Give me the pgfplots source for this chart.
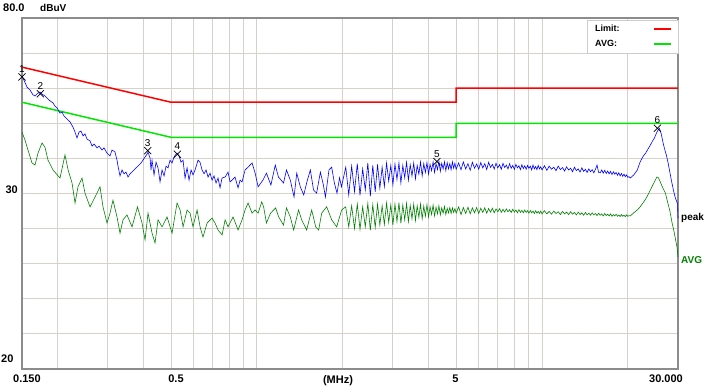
\documentclass[border=0pt]{standalone}
\usepackage{pgfplots}
\pgfplotsset{compat=1.18}
\usepackage{fontspec}
\setmainfont{Liberation Sans}
\definecolor{gridc}{RGB}{214,210,202}
\definecolor{limred}{RGB}{255,0,0}
\definecolor{limgreen}{RGB}{0,230,0}
\definecolor{pkblue}{RGB}{0,0,255}
\definecolor{avgreen}{RGB}{0,128,0}
\definecolor{framec}{RGB}{140,140,140}
\newcommand{\tl}{\fontsize{11}{13}\selectfont\bfseries}
\begin{document}
\begin{tikzpicture}
\useasboundingbox (-22pt,-18pt) rectangle (691pt,369pt);
\begin{axis}[
  name=ax, at={(0,0)}, anchor=south west,
  xmode=log, scale only axis, width=656pt, height=351pt,
  xmin=0.15, xmax=30, ymin=-20, ymax=80,
  xtick={1,10}, xticklabels={},
  minor xtick={0.2,0.3,0.4,0.5,0.6,0.7,0.8,0.9,2,3,4,5,6,7,8,9,20,30},
  ytick={-20,-10,0,10,20,30,40,50,60,70,80}, yticklabels={},
  grid=both,
  major grid style={gridc, line width=0.9pt},
  minor grid style={gridc, line width=0.9pt},
  major tick length=0pt, minor tick length=0pt,
  axis line style={framec, line width=1.2pt},
  clip=false,
  legend cell align=left,
  legend plot pos=right,
  legend style={at={(1,1)}, anchor=north east, yshift=-2pt,
    draw=gray!40, fill=white, font=\fontsize{9}{10}\selectfont\bfseries,
    inner xsep=6pt, inner ysep=3pt, row sep=3pt},
]
\addplot[limred, line width=1.5pt] coordinates {(0.15,66)(0.5,56)(5,56)(5,60)(30,60)};
\addlegendentry{\makebox[56pt][l]{Limit:}}
\addplot[limgreen, line width=1.5pt] coordinates {(0.15,56)(0.5,46)(5,46)(5,50)(30,50)};
\addlegendentry{\makebox[56pt][l]{AVG:}}

% AVG trace
\addplot[avgreen, line width=0.6pt, forget plot] table {
f db
0.1500 47.5
0.1537 45.2
0.1574 42.4
0.1626 38.7
0.1666 38.1
0.1707 41.5
0.1763 44.4
0.1806 43.2
0.1851 39.5
0.1927 36.7
0.2039 34.4
0.2123 41.0
0.2177 36.7
0.2247 33.0
0.2302 27.3
0.2358 31.9
0.2436 34.4
0.2495 30.1
0.2598 26.2
0.2706 29.0
0.2817 31.9
0.2886 26.2
0.2981 21.6
0.3054 24.4
0.3128 28.1
0.3232 23.3
0.3311 18.7
0.3392 22.5
0.3503 23.9
0.3648 20.5
0.3813 26.2
0.3955 21.6
0.4052 16.8
0.4151 24.4
0.4288 18.7
0.4393 15.9
0.4501 22.5
0.4649 20.5
0.4841 23.3
0.5040 18.7
0.5248 27.3
0.538 25.3
0.551 20.5
0.569 25.3
0.583 24.4
0.597 20.5
0.617 25.3
0.632 20.5
0.647 17.6
0.669 21.6
0.696 23.0
0.713 21.6
0.731 19.6
0.755 18.2
0.774 22.5
0.792 20.5
0.825 23.3
0.859 19.6
0.887 22.5
0.909 25.3
0.931 27.3
0.962 24.4
0.986 25.3
1.01 24.4
1.04 27.6
1.056 26.2
1.08 21.6
1.117 24.4
1.164 25.9
1.193 23.3
1.24 21.0
1.27 25.9
1.31 23.3
1.346 19.6
1.40 25.3
1.436 22.5
1.495 19.6
1.557 25.3
1.608 20.5
1.647 19.6
1.688 24.4
1.757 26.2
1.83 22.5
1.905 20.5
1.983 25.3
2.048 26.2
2.10 20.5
2.15 26.5
2.20 20.0
2.25 27.0
2.30 19.8
2.35 26.2
2.40 20.5
2.45 27.2
2.50 19.5
2.55 26.8
2.60 20.3
2.65 27.0
2.70 21.0
2.75 26.5
2.80 21.2
2.85 27.3
2.90 21.8
2.95 26.8
3.00 21.0
3.05 27.0
3.10 22.0
3.15 27.4
3.20 21.5
3.25 26.7
3.30 22.5
3.35 27.2
3.40 22.0
3.45 26.6
3.50 22.8
3.55 27.0
3.60 22.3
3.65 26.5
3.70 23.2
3.75 27.0
3.80 22.8
3.85 26.4
3.90 23.5
3.95 26.8
4.00 23.3
4.05 26.2
4.10 24.0
4.15 26.7
4.20 23.6
4.25 26.1
4.30 24.2
4.35 26.5
4.40 23.9
4.45 25.9
4.50 24.4
4.55 26.3
4.60 24.0
4.65 25.8
4.70 24.5
4.75 26.0
4.80 24.3
4.85 25.9
4.90 24.6
4.95 25.7
5.00 24.4
5.1 26.2
5.2 24.0
5.3 26.0
5.4 24.3
5.5 26.1
5.6 24.2
5.7 25.9
5.8 24.5
5.9 26.0
6.0 24.3
6.1 25.8
6.2 24.6
6.3 25.9
6.4 24.4
6.5 25.7
6.6 24.7
6.7 25.8
6.8 24.5
6.9 25.6
7.0 24.8
7.1 25.7
7.2 24.6
7.3 25.5
7.4 24.7
7.5 25.6
7.6 24.8
7.7 25.4
7.8 24.6
7.9 25.5
8.0 24.7
8.1 25.3
8.2 24.5
8.3 25.4
8.4 24.6
8.5 25.2
8.6 24.5
8.7 25.3
8.8 24.6
8.9 25.1
9.0 24.4
9.1 25.2
9.2 24.5
9.3 25.0
9.4 24.3
9.5 25.1
9.6 24.4
9.7 24.9
9.8 24.3
9.9 25.0
10.0 24.2
10.2 25.1
10.4 24.2
10.6 24.9
10.8 24.1
11.0 25.0
11.2 24.3
11.4 24.8
11.6 24.0
11.8 24.9
12.0 24.2
12.2 24.7
12.4 24.0
12.6 24.8
12.8 24.1
13.0 24.6
13.2 23.9
13.4 24.7
13.6 24.0
13.8 24.5
14.0 23.8
14.2 24.6
14.4 23.9
14.6 24.4
14.8 23.8
15.0 24.5
15.2 23.9
15.4 24.3
15.6 23.7
15.8 24.4
16.0 23.8
16.2 24.2
16.4 23.6
16.6 24.3
16.8 23.7
17.0 24.1
17.2 23.6
17.4 24.2
17.6 23.5
17.8 24.0
18.0 23.6
18.2 24.1
18.4 23.5
18.6 23.9
18.8 23.4
19.0 24.0
19.2 23.5
19.4 23.8
19.6 23.4
19.8 23.9
20.0 23.5
20.2 23.7
20.4 23.6
20.8 24.2
21.2 24.8
21.6 25.3
22.1 26.2
22.6 27.3
23.1 28.4
23.6 29.8
24.0 31.0
24.4 32.2
24.8 33.3
25.3 34.7
25.6 34.5
26.0 33.3
26.4 32.0
27.1 30.1
27.6 27.5
28.1 25.0
28.6 21.6
29.0 19.5
29.3 17.6
29.8 14.5
30.0 11.9
};

% Peak trace
\addplot[pkblue, line width=0.6pt, forget plot] table {
f db
0.1500 63.5
0.1524 62.3
0.1562 60.3
0.1600 59.5
0.1639 58.1
0.1666 57.8
0.1707 58.6
0.1735 58.9
0.1777 58.1
0.1806 57.8
0.1851 56.9
0.1881 56.4
0.1927 55.8
0.1958 54.9
0.1990 54.4
0.2039 52.9
0.2072 53.2
0.2106 52.1
0.2158 51.2
0.2211 50.4
0.2265 48.9
0.2302 47.5
0.2339 45.8
0.2377 47.5
0.2416 47.8
0.2456 46.4
0.2495 47.0
0.2536 45.5
0.2598 45.0
0.2641 43.5
0.2684 44.1
0.2750 43.0
0.2794 43.5
0.2863 42.4
0.2909 43.0
0.2981 41.5
0.3054 40.7
0.3103 42.4
0.3179 41.8
0.3232 39.5
0.3258 37.8
0.3311 35.0
0.3365 36.7
0.3420 35.6
0.3475 36.1
0.3532 34.7
0.3590 35.6
0.3678 36.4
0.3768 37.3
0.3860 38.1
0.3923 38.7
0.3987 39.5
0.4052 40.4
0.4118 41.2
0.4151 41.8
0.4219 40.1
0.4253 36.7
0.4288 39.5
0.4358 35.3
0.4429 38.9
0.4501 37.3
0.4574 33.3
0.4649 36.7
0.4725 35.0
0.4802 37.8
0.4880 37.3
0.4959 39.5
0.5040 38.7
0.5122 40.4
0.5206 41.2
0.5248 41.5
0.5333 40.7
0.5420 38.9
0.5509 39.5
0.5598 34.4
0.5690 37.3
0.5782 33.8
0.5877 36.7
0.5972 35.3
0.6069 36.7
0.6218 39.5
0.6319 38.9
0.6422 36.7
0.6527 35.6
0.6633 36.7
0.6741 34.7
0.6851 35.8
0.6962 33.8
0.7076 35.0
0.7191 33.0
0.7308 34.4
0.7427 31.6
0.7548 34.4
0.774 34.7
0.7923 36.1
0.8052 33.3
0.8183 33.8
0.838 34.7
0.859 31.6
0.873 33.8
0.8872 33.3
0.909 36.7
0.9313 37.5
0.9619 38.7
0.986 35.8
1.01 31.9
1.05 33.8
1.08 35.8
1.12 32.4
1.16 38.1
1.19 34.7
1.24 33.0
1.27 36.7
1.31 33.8
1.35 29.0
1.38 35.8
1.42 31.9
1.46 29.6
1.50 33.5
1.54 36.7
1.58 31.0
1.62 30.1
1.67 36.1
1.71 32.5
1.74 29.0
1.79 36.7
1.83 37.5
1.87 33.0
1.91 30.1
1.95 34.5
1.98 31.9
2.05 37.5
2.10 29.6
2.15 37.8
2.20 30.5
2.25 38.5
2.30 29.5
2.35 37.0
2.40 31.0
2.45 38.7
2.50 29.2
2.55 38.0
2.60 30.5
2.65 38.3
2.70 31.5
2.75 37.5
2.80 32.0
2.85 38.7
2.90 33.5
2.95 38.0
3.00 32.5
3.05 38.4
3.10 34.0
3.15 38.7
3.20 33.0
3.25 38.0
3.30 34.5
3.35 38.9
3.40 33.8
3.45 38.2
3.50 35.0
3.55 38.7
3.60 34.2
3.65 38.0
3.70 35.5
3.75 39.0
3.80 35.0
3.85 38.5
3.90 36.0
3.95 38.8
4.00 35.5
4.05 38.3
4.10 36.5
4.15 39.0
4.20 36.0
4.25 38.5
4.30 36.8
4.35 39.2
4.40 36.3
4.45 38.6
4.50 37.0
4.55 39.0
4.60 36.5
4.65 38.8
4.70 37.0
4.75 38.5
4.80 36.8
4.85 39.0
4.90 37.2
4.95 38.6
5.00 36.9
5.1 38.7
5.2 36.8
5.3 39.0
5.4 37.0
5.5 38.5
5.6 36.6
5.7 38.9
5.8 37.2
5.9 38.4
6.0 36.9
6.1 38.8
6.2 37.3
6.3 38.5
6.4 36.8
6.5 38.9
6.6 37.4
6.7 38.3
6.8 37.0
6.9 38.6
7.0 37.3
7.1 38.2
7.2 36.9
7.3 38.6
7.4 37.4
7.5 38.1
7.6 37.0
7.7 38.5
7.8 37.2
7.9 38.0
8.0 36.9
8.1 38.3
8.2 37.3
8.3 37.9
8.4 36.8
8.5 38.2
8.6 37.1
8.7 37.9
8.8 36.9
8.9 38.0
9.0 37.2
9.1 37.8
9.2 36.7
9.3 38.1
9.4 37.0
9.5 37.7
9.6 36.8
9.7 38.0
9.8 37.0
9.9 37.6
10.0 36.7
10.2 37.9
10.4 36.6
10.6 37.8
10.8 36.9
11.0 37.5
11.2 36.5
11.4 37.8
11.6 36.8
11.8 37.4
12.0 36.4
12.2 37.6
12.4 36.7
12.6 37.2
12.8 36.2
13.0 37.5
13.2 36.5
13.4 37.0
13.6 36.1
13.8 37.3
14.0 36.3
14.2 36.9
14.4 36.0
14.6 37.0
14.8 36.2
15.0 36.8
15.2 35.9
15.4 36.9
15.6 38.1
15.8 36.0
16.0 35.9
16.2 36.7
16.4 35.8
16.6 36.6
16.8 35.7
17.0 36.4
17.2 35.6
17.4 36.3
17.6 35.4
17.8 36.2
18.0 35.5
18.2 36.0
18.4 35.2
18.6 35.9
18.8 35.0
19.0 35.7
19.2 34.9
19.4 35.5
19.6 34.8
19.8 35.3
20.0 34.6
20.2 34.8
20.4 34.4
21.0 35.3
21.6 36.7
22.1 39.0
22.6 40.5
23.1 41.5
23.6 42.8
24.0 43.8
24.4 44.9
24.8 45.8
25.3 47.5
25.8 48.6
26.2 47.0
26.6 44.4
27.0 42.3
27.3 41.0
27.7 38.7
28.1 36.0
28.4 34.0
28.9 31.0
29.3 29.0
29.9 27.0
30.0 23.0
};

% Markers
\addplot[only marks, mark=x, mark size=5pt, black, line width=0.7pt,
  point meta=explicit symbolic, nodes near coords,
  nodes near coords style={font=\fontsize{10}{11}\selectfont, anchor=south, inner sep=0pt, yshift=4pt, text=black},
  forget plot] table[meta=lbl] {
f db lbl
0.150 63.2 1
0.174 58.4 2
0.414 42.2 3
0.526 41.2 4
4.28 39.1 5
25.4 48.6 6
};
\end{axis}
\begin{scope}[shift={(ax.south west)}, every node/.style={inner sep=0pt}]
\node[anchor=west, font=\tl] at (-19pt,361pt) {80.0};
\node[anchor=west, font=\fontsize{10}{12}\selectfont\bfseries] at (18pt,361pt) {dBuV};
\node[anchor=south east, font=\tl] at (-4pt,175.5pt) {30};
\node[anchor=south west, font=\tl] at (-21pt,6pt) {20};
\node[anchor=north west, font=\tl] at (-9pt,-6pt) {0.150};
\node[anchor=north, font=\tl] at (154pt,-6pt) {0.5};
\node[anchor=north, font=\tl] at (316pt,-6pt) {(MHz)};
\node[anchor=north, font=\tl] at (433.5pt,-6pt) {5};
\node[anchor=north east, font=\tl] at (661pt,-6pt) {30.000};
\node[anchor=west, font=\fontsize{10}{12}\selectfont\bfseries] at (659pt,151pt) {peak};
\node[anchor=west, font=\fontsize{10}{12}\selectfont\bfseries, text=avgreen] at (659pt,109pt) {AVG};
\end{scope}
\end{tikzpicture}
\end{document}
